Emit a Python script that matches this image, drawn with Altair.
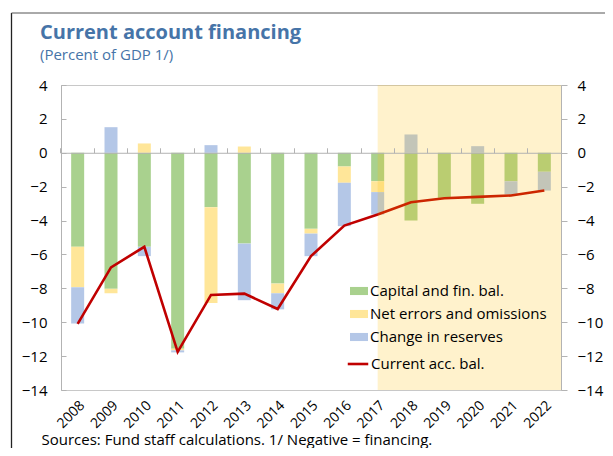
import altair as alt
import pandas as pd

# ---------------- data ----------------
years = [str(y) for y in range(2008, 2023)]
capital = [-5.55, -8.03, -5.55, -11.56, -3.21, -5.36, -7.72, -4.49, -0.81, -1.68, -4.00, -2.66, -3.01, -1.68, -1.12]
errors = [-2.39, -0.26, 0.55, -0.10, -5.65, 0.37, -0.57, -0.28, -0.96, -0.64, 0.0, 0.0, 0.0, 0.0, 0.0]
reserves = [-2.14, 1.51, -0.55, -0.12, 0.45, -3.34, -0.95, -1.33, -2.56, -1.32, 1.08, 0.0, 0.39, -0.78, -1.11]
current = [-10.10, -6.76, -5.55, -11.75, -8.39, -8.31, -9.22, -6.10, -4.30, -3.64, -2.92, -2.68, -2.60, -2.52, -2.23]

series_names = ["Capital and fin. bal.", "Net errors and omissions", "Change in reserves"]
line_name = "Current acc. bal."
projection_start = "2017"
y_ticks = [-14, -12, -10, -8, -6, -4, -2, 0, 2, 4]
y_domain = [-14, 4]

TITLE = "Current account financing"
SUBTITLE = "(Percent of GDP 1/)"
FOOTER = "Sources: Fund staff calculations. 1/ Negative = financing."

# ---------------- style ----------------
bar_colors = ["#A9D18E", "#FFE699", "#B4C7E7"]
line_color = "#C00000"
shade_color = "#FFC000"
title_color = "#4674A8"
axis_grey = "#B3B3B3"
FONT = "Open Sans"
W, H = 500, 305

rows = []
for i, yr in enumerate(years):
    for k, (name, vals) in enumerate(zip(series_names, [capital, errors, reserves])):
        rows.append({"year": yr, "series": name, "order": k, "value": vals[i]})
bars_df = pd.DataFrame(rows)
line_df = pd.DataFrame({"year": years, "value": current, "name": [line_name] * len(years)})
shade_df = pd.DataFrame({"start": [projection_start], "top": [y_domain[1]], "bottom": [y_domain[0]]})

xscale = alt.Scale(domain=years, paddingInner=0, paddingOuter=0)
yscale = alt.Scale(domain=y_domain, nice=False, zero=False)

bars = alt.Chart(bars_df).mark_bar(width=alt.RelativeBandSize(0.39)).encode(
    x=alt.X("year:N", scale=xscale, sort=years,
            axis=alt.Axis(orient="bottom", labelAngle=-45, domain=False, ticks=False,
                          labelFontSize=14, labelColor="black", labelFont=FONT, labelPadding=8,
                          title=FOOTER, titleX=-20, titleY=54, titleAlign="left",
                          titleAnchor="start", titleBaseline="alphabetic",
                          titleFontSize=15, titleFontWeight="normal", titleColor="black",
                          titleFont=FONT, titleLimit=600)),
    y=alt.Y("value:Q", scale=yscale, stack="zero",
            axis=alt.Axis(orient="left", values=y_ticks, ticks=False, tickSize=0, labelPadding=14,
                          domainColor=axis_grey, labelFontSize=15, labelColor="black",
                          labelFont=FONT, title=None, grid=False)),
    color=alt.Color("series:N", scale=alt.Scale(domain=series_names, range=bar_colors),
                    legend=alt.Legend(title=None, orient="none", legendX=289, legendY=197,
                                      symbolType="M-1,-0.45H1V0.45H-1Z", symbolSize=324,
                                      symbolStrokeWidth=0, labelFontSize=15, labelColor="black",
                                      labelFont=FONT, rowPadding=6, padding=0, labelOffset=2,
                                      labelLimit=400)),
    order=alt.Order("order:Q"),
)

line = alt.Chart(line_df).mark_line(strokeWidth=2.6).encode(
    x=alt.X("year:N", scale=xscale, sort=years, axis=None),
    y=alt.Y("value:Q", scale=yscale,
            axis=alt.Axis(orient="right", values=y_ticks, tickSize=6, tickColor=axis_grey,
                          domainColor=axis_grey, labelPadding=10, labelFontSize=15,
                          labelColor="black", labelFont=FONT, title=None, grid=False)),
    stroke=alt.Stroke("name:N", scale=alt.Scale(domain=[line_name], range=[line_color]),
                      legend=alt.Legend(title=None, orient="none", legendX=285, legendY=267,
                                        symbolType="stroke", symbolSize=420, symbolStrokeWidth=2.6,
                                        labelFontSize=15, labelColor="black", labelFont=FONT,
                                        padding=0, labelOffset=1, labelLimit=400)),
)

shade = alt.Chart(shade_df).mark_rect(color=shade_color, opacity=0.2).encode(
    x=alt.X("start:N", scale=xscale, bandPosition=0.5,
            axis=alt.Axis(orient="top", offset=-H * y_domain[1] / (y_domain[1] - y_domain[0]),
                          labels=False, tickSize=5, bandPosition=0, domainColor=axis_grey,
                          tickColor=axis_grey, title=None, zindex=1)),
    x2=alt.value("width"),
    y=alt.Y("top:Q", scale=yscale,
            axis=alt.Axis(orient="right", offset=-W, values=y_ticks, labels=False, tickSize=5,
                          tickColor=axis_grey, domain=False, title=None, grid=False)),
    y2="bottom:Q",
)

one = pd.DataFrame({"a": [0]})
frame_left = alt.Chart(one).mark_rule(color="#222222", strokeWidth=1.3).encode(
    x=alt.value(-49.5), y=alt.value(-72), y2=alt.value(H + 90))
frame_top = alt.Chart(one).mark_rule(color="#555555", strokeWidth=1).encode(
    x=alt.value(-49.5), x2=alt.value(W + 80), y=alt.value(-72))

title_mark = alt.Chart(pd.DataFrame({"t": [TITLE]})).mark_text(
    align="left", baseline="alphabetic", fontSize=20, fontWeight="bold",
    color=title_color, font=FONT).encode(text="t:N", x=alt.value(-21), y=alt.value(-46))
subtitle_mark = alt.Chart(pd.DataFrame({"t": [SUBTITLE]})).mark_text(
    align="left", baseline="alphabetic", fontSize=15,
    color=title_color, font=FONT).encode(text="t:N", x=alt.value(-21), y=alt.value(-25))

chart = alt.layer(bars, line, shade, frame_left, frame_top, title_mark, subtitle_mark).resolve_scale(
    x="shared", y="shared"
).resolve_axis(
    x="independent", y="independent"
).properties(
    width=W, height=H,
    autosize=alt.AutoSizeParams(type="none"),
    padding={"left": 53, "top": 77, "right": 44, "bottom": 58},
    background="white",
).configure_view(stroke="#C8C8C8", strokeWidth=1)

chart.save("out.html", embed_options={"renderer": "svg", "actions": False})
